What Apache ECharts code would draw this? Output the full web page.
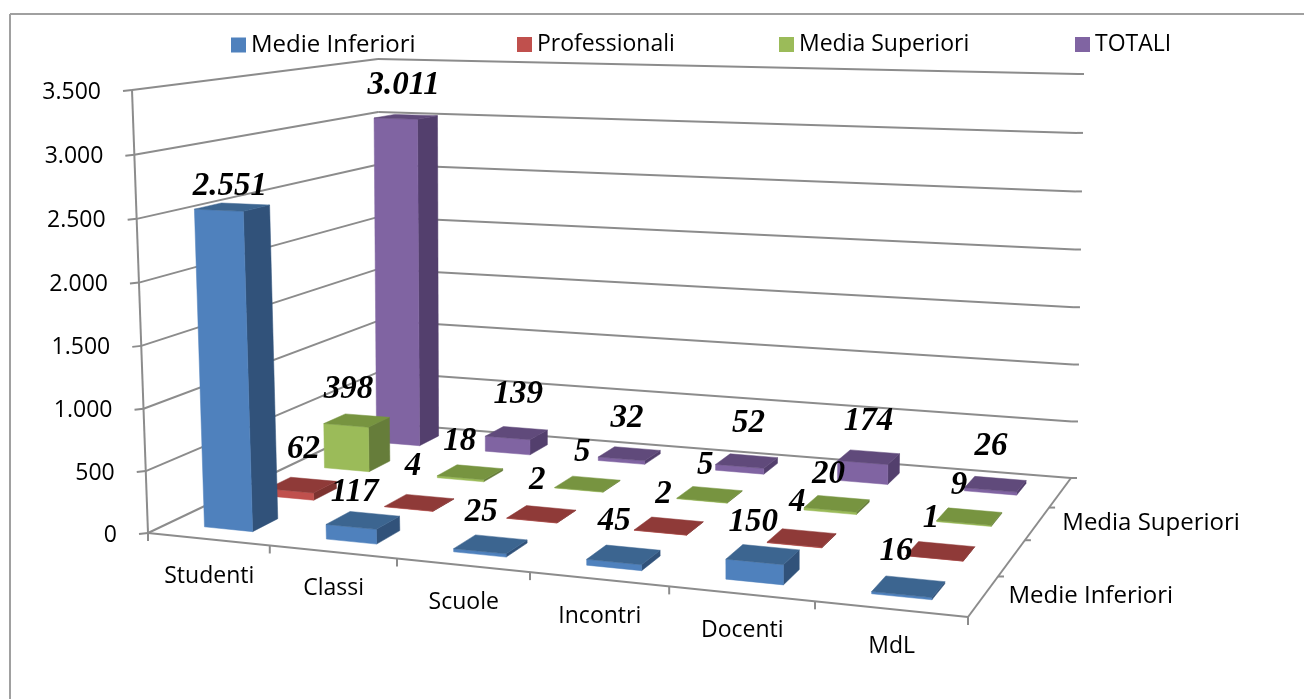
<!DOCTYPE html>
<html>
<head>
<meta charset="utf-8">
<style>
  html, body { margin: 0; padding: 0; background: #fff; }
  #main { width: 1304px; height: 699px; }
</style>
<script src="https://cdn.jsdelivr.net/npm/echarts@6/dist/echarts.min.js"></script>
</head>
<body>
<div id="main"></div>
<script>
var categories = ["Studenti", "Classi", "Scuole", "Incontri", "Docenti", "MdL"];
var rowNames = ["Medie Inferiori", "Professionali", "Media Superiori", "TOTALI"];
var depthLabels = ["Medie Inferiori", "", "Media Superiori", ""];
var valueTicks = [0, 500, 1000, 1500, 2000, 2500, 3000, 3500];

var medieInferiori = [2551, 117, 25, 45, 150, 16];
var professionali = [62, 4, 2, 2, 4, 1];
var mediaSuperiori = [398, 18, 5, 5, 20, 9];
var totali = [3011, 139, 32, 52, 174, 26];
var rows = [medieInferiori, professionali, mediaSuperiori, totali];

// front, top, side
var rowColors = [
  ["#4f81bd", "#3c6590", "#31527a"],
  ["#c0504d", "#8f3a38", "#7d3330"],
  ["#9bbb59", "#779440", "#667d3a"],
  ["#8064a2", "#604a7b", "#533f6d"]
];

var GRID = "#8c8c8c";
var TEXT_FONT = '"Open Sans"';

// manual nudges of the data labels, same order as rows (they were dragged by hand in the original)
var labelNudge = [
  [[-2, -21], [-8, -28], [-9, -32], [-9, -33], [-9, -32], [-12, -35]],
  [[2, -35], [-6, -36], [-4, -34], [-5, -31], [-4, -35], [-9, -33]],
  [[-8, -31], [-10, -31], [-5, -31], [-4, -29], [-8, -29], [-10, -31]],
  [[-2, -31], [2, -39], [-2, -35], [2, -38], [0, -36], [-4, -38]]
];

// chart box on screen
var floorQuad = [[148, 533], [968, 617], [1071, 478], [379, 423]]; // front-left, front-right, back-right, back-left
var roofFL = [132, 90], roofBR = [1078, 74], roofBL = [378, 59];

function makeCamera() {
  var p = floorQuad;
  var dx1 = p[1][0] - p[2][0], dx2 = p[3][0] - p[2][0], sx = p[0][0] - p[1][0] + p[2][0] - p[3][0];
  var dy1 = p[1][1] - p[2][1], dy2 = p[3][1] - p[2][1], sy = p[0][1] - p[1][1] + p[2][1] - p[3][1];
  var den = dx1 * dy2 - dx2 * dy1;
  var g = (sx * dy2 - dx2 * sy) / den, h = (dx1 * sy - sx * dy1) / den;
  var a = p[1][0] - p[0][0] + g * p[1][0], b = p[3][0] - p[0][0] + h * p[3][0];
  var d = p[1][1] - p[0][1] + g * p[1][1], e = p[3][1] - p[0][1] + h * p[3][1];
  var x0 = p[0][0], y0 = p[0][1];
  // vertical column of the projection, fitted to the roof corners
  var W1 = g + h + 1, X1 = a + b + x0;
  var i = (roofBR[0] * W1 - X1 - roofFL[0] + x0) / (roofFL[0] - roofBR[0]);
  var c = roofFL[0] * (1 + i) - x0, f = roofFL[1] * (1 + i) - y0;
  return function (u, v, t) {
    var w = g * u + h * v + i * t + 1;
    return [(a * u + b * v + c * t + x0) / w, (d * u + e * v + f * t + y0) / w];
  };
}
var rawProject = makeCamera();
var fixBL = [roofBL[0] - rawProject(0, 1, 1)[0], roofBL[1] - rawProject(0, 1, 1)[1]];
var fixBR = [roofBR[0] - rawProject(1, 1, 1)[0], roofBR[1] - rawProject(1, 1, 1)[1]];

// u: 0..1 along categories, v: 0..1 in depth, t: 0..1 up the value axis
function project(u, v, t) {
  var p = rawProject(u, v, t);
  return [
    p[0] + t * v * ((1 - u) * fixBL[0] + u * fixBR[0]),
    p[1] + t * v * ((1 - u) * fixBL[1] + u * fixBR[1])
  ];
}

// turn an axis value into box fractions using the hidden cartesian axes
function boxPoint(api, params, catPos, value) {
  var cs = params.coordSys;
  var c = api.coord([0, value]);
  var band = api.size([1, 0])[0];
  return {
    u: (c[0] - cs.x + catPos * band - 0.5 * band) / cs.width,
    t: (cs.y + cs.height - c[1]) / cs.height
  };
}

function fmt(val) {
  return String(val).replace(/\B(?=(\d{3})+$)/g, ".");
}
function poly(points, fill) {
  return { type: "polygon", shape: { points: points }, style: { fill: fill, stroke: fill, lineWidth: 0.5 } };
}
function seg(a, b) {
  return {
    type: "line",
    shape: { x1: a[0], y1: a[1], x2: b[0], y2: b[1] },
    style: { stroke: GRID, lineWidth: 2 }
  };
}
function label(pos, text, font, align) {
  return {
    type: "text",
    x: pos[0], y: pos[1],
    style: { text: text, font: font, fill: "#000", align: align || "center", verticalAlign: "middle" }
  };
}

function renderBar(j) {
  return function (params, api) {
    var i = api.value(0), val = api.value(1);
    var lo = boxPoint(api, params, i + 0.303, 0), hi = boxPoint(api, params, i + 0.703, val);
    var v0 = (j + 0.3) / 4, v1 = (j + 0.7) / 4;
    var u0 = lo.u, u1 = hi.u, t = hi.t;
    var c = rowColors[j];
    var a = project(u0, v0, 0), b = project(u1, v0, 0), e = project(u1, v1, 0);
    var A = project(u0, v0, t), B = project(u1, v0, t), E = project(u1, v1, t), D = project(u0, v1, t);
    return {
      type: "group",
      children: [
        poly([b, e, E, B], c[2]),
        poly([a, b, B, A], c[0]),
        poly([A, B, E, D], c[1])
      ]
    };
  };
}

function renderFrame(params, api) {
  var val = api.value(0);
  var t = boxPoint(api, params, 0, val).t;
  var fl = project(0, 0, t), bl = project(0, 1, t), br = project(1, 1, t);
  return {
    type: "group",
    children: [
      seg(fl, bl), seg(bl, br),
      seg(fl, [fl[0] - 9, fl[1] + 1]),
      seg(br, [br[0] + 6, br[1]]),
      label([fl[0] - 31, fl[1] + 2], fmt(val), "23px " + TEXT_FONT, "right")
    ]
  };
}

function renderFloor(params, api) {
  var children = [
    seg(project(0, 0, 0), project(0, 0, 1)),
    seg(project(0, 0, 0), project(1, 0, 0)),
    seg(project(1, 0, 0), project(1, 1, 0))
  ];
  categories.forEach(function (name, i) {
    var tick = project(i / 6, 0, 0);
    children.push(seg(tick, [tick[0], tick[1] + 8]));
    var p = project((i + 0.5) / 6, 0, 0);
    children.push(label([p[0] + 1, p[1] + 37], name, "23px " + TEXT_FONT));
  });
  var last = project(1, 0, 0);
  children.push(seg(last, [last[0], last[1] + 8]));
  depthLabels.forEach(function (name, j) {
    var tick = project(1, (j + 1) / 4, 0);
    children.push(seg(tick, [tick[0] + 6, tick[1]]));
    if (name) {
      var p = project(1, (j + 0.5) / 4, 0);
      children.push(label([p[0] + 25, p[1]], name, "24px " + TEXT_FONT, "left"));
    }
  });
  return { type: "group", children: children };
}

function renderValueLabel(params, api) {
  var i = api.value(0), val = api.value(1), j = api.value(2);
  var top = boxPoint(api, params, i + 0.5, val);
  var p = project(top.u, (j + 0.5) / 4, top.t);
  var n = labelNudge[j][i];
  return label([p[0] + n[0], p[1] + n[1]], fmt(val), 'italic bold 33px "Liberation Serif"');
}

var series = [
  {
    type: "custom", silent: true, z: 1, renderItem: renderFrame,
    data: valueTicks.map(function (v) { return [v]; }),
    encode: { y: 0 }
  },
  {
    type: "custom", silent: true, z: 1, renderItem: renderFloor,
    data: [[0, 0]], encode: { x: 0, y: 1 }
  }
];
// back row gets the lowest z so nearer bars cover it
rows.forEach(function (row, j) {
  series.push({
    type: "custom",
    name: rowNames[j],
    z: 5 - j,
    silent: true,
    itemStyle: { color: rowColors[j][0] },
    renderItem: renderBar(j),
    data: row.map(function (val, i) { return [i, val]; }),
    encode: { x: 0, y: 1 }
  });
});
var labelRows = [];
rows.forEach(function (row, j) {
  row.forEach(function (val, i) { labelRows.push([i, val, j]); });
});
series.push({
  type: "custom", silent: true, z: 9, renderItem: renderValueLabel,
  data: labelRows, encode: { x: 0, y: 1 }
});

var legendLeft = [226, 512, 774, 1070];
var legendSize = [24, 23, 23, 23];
var legends = rowNames.map(function (name, j) {
  return {
    data: [name],
    left: legendLeft[j],
    top: 28,
    icon: "rect",
    itemWidth: 15,
    itemHeight: 15,
    itemGap: 0,
    selectedMode: false,
    textStyle: { fontFamily: TEXT_FONT, fontSize: legendSize[j], color: "#000" }
  };
});

var myChart = echarts.init(document.getElementById("main"));
myChart.setOption({
  animation: false,
  backgroundColor: "#fff",
  grid: { left: 0, right: 0, top: 0, bottom: 0 },
  xAxis: { type: "category", data: categories, show: false },
  yAxis: { type: "value", min: 0, max: 3500, interval: 500, show: false },
  legend: legends,
  graphic: [
    { type: "line", shape: { x1: 10, y1: 14, x2: 1304, y2: 14 }, style: { stroke: "#a0a0a0", lineWidth: 2 } },
    { type: "line", shape: { x1: 10, y1: 14, x2: 10, y2: 699 }, style: { stroke: "#a0a0a0", lineWidth: 2 } }
  ],
  series: series
});
</script>
</body>
</html>
